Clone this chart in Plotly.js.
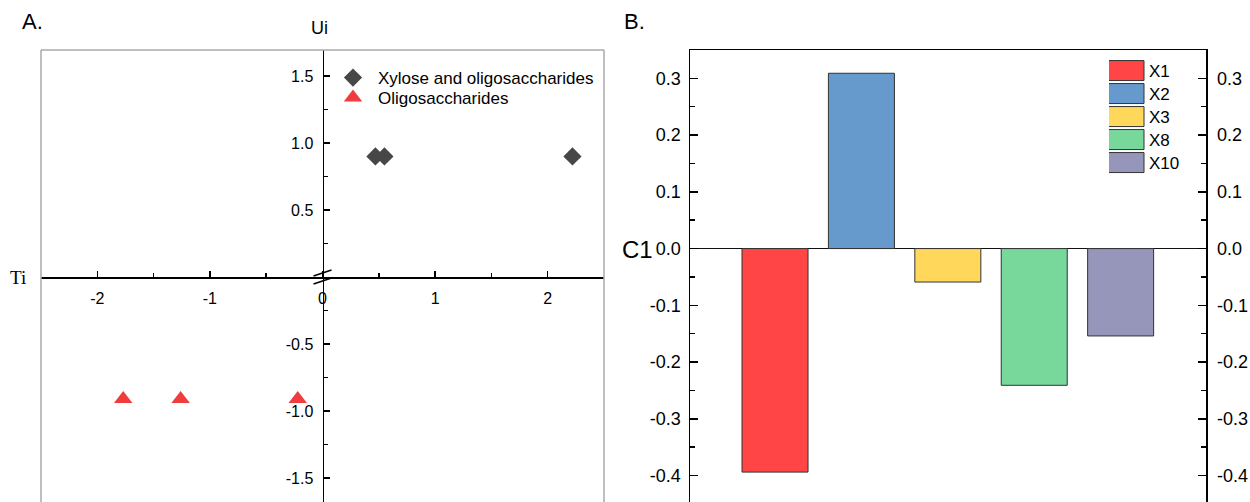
<!DOCTYPE html>
<html>
<head>
<meta charset="utf-8">
<script src="https://cdn.plot.ly/plotly-3.0.1.min.js"></script>
<style>html,body{margin:0;padding:0;background:#fff;overflow:hidden}#chart{width:1250px;height:502px}</style>
</head>
<body>
<div id="chart"></div>
<script>
// ---- Panel A data (Ti / Ui scores) ----
const xyloseName = 'Xylose and oligosaccharides';
const xyloseTi = [0.47, 0.55, 2.22];
const xyloseUi = [0.90, 0.90, 0.90];
const oligoName = 'Oligosaccharides';
const oligoTi = [-1.77, -1.26, -0.22];
const oligoUi = [-0.91, -0.91, -0.91];
const aXTicks = [-2, -1, 0, 1, 2];
const aXTickText = ['-2', '-1', '0', '1', '2'];
const aXMinor = [-2.5, -1.5, -0.5, 0.5, 1.5, 2.5];
const aYTicks = [-1.5, -1.0, -0.5, 0.5, 1.0, 1.5];
const aYTickText = ['-1.5', '-1.0', '-0.5', '0.5', '1.0', '1.5'];
const aYMinor = [-1.25, -0.75, -0.25, 0.25, 0.75, 1.25];

// ---- Panel B data (C1 loadings) ----
const bCats = ['X1', 'X2', 'X3', 'X8', 'X10'];
const bVals = [-0.394, 0.309, -0.059, -0.241, -0.154];
const bColors = ['#ff4545', '#6699cc', '#ffd75a', '#78d79b', '#9696ba'];
const bTicks = [-0.4, -0.3, -0.2, -0.1, 0.0, 0.1, 0.2, 0.3];
const bTickText = ['-0.4', '-0.3', '-0.2', '-0.1', '0.0', '0.1', '0.2', '0.3'];
const bMinor = [-0.45, -0.35, -0.25, -0.15, -0.05, 0.05, 0.15, 0.25, 0.35];

const W = 1250, H = 502;
const SANS = 'Liberation Sans, Arial, sans-serif';
const SERIF = 'Liberation Serif, Times New Roman, serif';

const aDomX = [41 / W, 604 / W];
const aDomY = [0, 1 - 50 / H];
const aRangeX = [-2.5, 2.5];
const aRangeY = [-1.679, 1.694];
const aXPos = aDomY[0] + (0 - aRangeY[0]) / (aRangeY[1] - aRangeY[0]) * (aDomY[1] - aDomY[0]);
const aYPos = aDomX[0] + (0 - aRangeX[0]) / (aRangeX[1] - aRangeX[0]) * (aDomX[1] - aDomX[0]);

const bDomX = [690 / W, 1206 / W];
const bRangeX = [-0.984, 4.988];
const bRangeY = [-0.4467, 0.35];

const traces = [
  {type: 'scatter', mode: 'markers', name: xyloseName, x: xyloseTi, y: xyloseUi,
   xaxis: 'x', yaxis: 'y', legend: 'legend',
   marker: {symbol: 'diamond', size: 14, color: '#474747'}},
  {type: 'scatter', mode: 'markers', name: oligoName, x: oligoTi, y: oligoUi,
   xaxis: 'x', yaxis: 'y', legend: 'legend',
   marker: {symbol: 'triangle-up', size: 16, color: '#f03c3c'}}
];
bCats.forEach((c, i) => {
  traces.push({type: 'bar', name: c, x: [c], y: [bVals[i]], xaxis: 'x2', yaxis: 'y2',
    legend: 'legend2', legendgroup: c,
    marker: {color: bColors[i], line: {color: '#333', width: 1}}});
});
// invisible companion so the right-hand C1 axis is drawn
traces.push({type: 'scatter', mode: 'none', x: bCats, y: bVals, xaxis: 'x2', yaxis: 'y3',
  showlegend: false, hoverinfo: 'skip'});

const axA = {showline: true, linecolor: '#000', linewidth: 1.5, ticks: 'inside', tickcolor: '#000',
  tickwidth: 1.5, showgrid: false, zeroline: false, fixedrange: true,
  tickfont: {family: SANS, size: 16, color: '#000'}};

const axB = {showline: true, linecolor: '#000', linewidth: 1.5, ticks: 'inside', tickcolor: '#000',
  tickwidth: 1.5, ticklen: 8, showgrid: false, fixedrange: true, range: bRangeY, autorange: false,
  tickmode: 'array', tickvals: bTicks, ticktext: bTickText,
  minor: {ticks: 'inside', ticklen: 5, tickwidth: 1.5, tickcolor: '#000', tickmode: 'array', tickvals: bMinor},
  tickfont: {family: SANS, size: 18, color: '#000'}};

const ann = (text, px, py, size, family) => ({text, xref: 'paper', yref: 'paper', x: px / W, y: 1 - py / H,
  xanchor: 'center', yanchor: 'middle', showarrow: false, font: {family: family || SANS, size, color: '#000'}});

const layout = {
  width: W, height: H, margin: {l: 0, r: 0, t: 0, b: 0},
  paper_bgcolor: '#fff', plot_bgcolor: 'rgba(0,0,0,0)',
  barmode: 'overlay', bargap: 0.236, showlegend: true,
  xaxis: Object.assign({}, axA, {domain: aDomX, range: aRangeX, anchor: 'free', position: aXPos,
    tickmode: 'array', tickvals: aXTicks, ticktext: aXTickText, ticklen: 6, ticklabelstandoff: 6,
    minor: {ticks: 'inside', ticklen: 4, tickwidth: 1.5, tickcolor: '#000', tickmode: 'array', tickvals: aXMinor}}),
  yaxis: Object.assign({}, axA, {domain: aDomY, range: aRangeY, anchor: 'free', position: aYPos,
    tickmode: 'array', tickvals: aYTicks, ticktext: aYTickText, ticklen: 6, ticklabelstandoff: 6,
    minor: {ticks: 'inside', ticklen: 4, tickwidth: 1.5, tickcolor: '#000', tickmode: 'array', tickvals: aYMinor}}),
  xaxis2: {domain: bDomX, anchor: 'y2', type: 'category', range: bRangeX, side: 'top',
    showline: true, linecolor: '#000', linewidth: 1.5, ticks: '', showticklabels: false,
    showgrid: false, zeroline: false, fixedrange: true},
  yaxis2: Object.assign({}, axB, {domain: aDomY, anchor: 'x2', side: 'left', ticklabelstandoff: 4,
    zeroline: true, zerolinecolor: '#111', zerolinewidth: 1.2}),
  yaxis3: Object.assign({}, axB, {domain: aDomY, anchor: 'x2', overlaying: 'y2', side: 'right',
    zeroline: false, ticklabelstandoff: 6}),
  legend: {x: 328 / W, y: 1 - 60 / H, xanchor: 'left', yanchor: 'top', bgcolor: 'rgba(0,0,0,0)',
    font: {family: SANS, size: 17, color: '#000'}, itemwidth: 40, tracegroupgap: 0},
  legend2: {x: 1109 / W, y: 1 - 53 / H, xanchor: 'left', yanchor: 'top', bgcolor: 'rgba(0,0,0,0)',
    font: {family: SANS, size: 17, color: '#000'}, tracegroupgap: 0},
  shapes: [
    // panel A frame (left, top, right)
    {type: 'line', xref: 'x domain', yref: 'y domain', x0: 0, x1: 0, y0: 0, y1: 1, line: {color: '#aaaaaa', width: 1.5}},
    {type: 'line', xref: 'x domain', yref: 'y domain', x0: 0, x1: 1, y0: 1, y1: 1, line: {color: '#aaaaaa', width: 1.5}},
    {type: 'line', xref: 'x domain', yref: 'y domain', x0: 1, x1: 1, y0: 0, y1: 1, line: {color: '#aaaaaa', width: 1.5}},
    // axis break marks at the origin
    {type: 'line', xref: 'x', yref: 'y', xsizemode: 'pixel', ysizemode: 'pixel', xanchor: 0, yanchor: 0,
      x0: -9, x1: 9, y0: 1, y1: 7, line: {color: '#000', width: 1.5}},
    {type: 'line', xref: 'x', yref: 'y', xsizemode: 'pixel', ysizemode: 'pixel', xanchor: 0, yanchor: 0,
      x0: -9, x1: 9, y0: -7, y1: -1, line: {color: '#000', width: 1.5}}
  ],
  annotations: [
    ann('A.', 32, 22, 22),
    ann('B.', 634, 22, 22),
    ann('Ui', 319, 28, 18),
    ann('Ti', 18, 277, 19, SERIF),
    ann('C1', 637, 249, 24)
  ]
};

function respace(gd, cls, step) {
  const items = gd.querySelectorAll('g.' + cls + ' g.traces');
  let x0 = null, y0 = null;
  items.forEach((it, i) => {
    const m = /translate\(\s*([-\d.e]+)[ ,]+([-\d.e]+)\s*\)/.exec(it.getAttribute('transform') || '');
    if (!m) return;
    if (i === 0) { x0 = parseFloat(m[1]); y0 = parseFloat(m[2]); }
    it.setAttribute('transform', `translate(${x0},${y0 + i * step})`);
  });
}

Plotly.newPlot('chart', traces, layout, {displayModeBar: false, staticPlot: true}).then(gd => {
  // widen the bar legend swatches to the reference's rectangles
  gd.querySelectorAll('g.legend2 g.traces').forEach(it => {
    const t = it.querySelector('text.legendtext');
    const tx = t ? parseFloat(t.getAttribute('x')) || 40 : 40;
    it.querySelectorAll('g.legendpoints path').forEach(p => {
      p.setAttribute('transform', '');
      const r = tx - 5, l = r - 40;
      p.setAttribute('d', `M${r},-10H${l}V10H${r}Z`);
    });
  });
  respace(gd, 'legend', 20);
  respace(gd, 'legend2', 23);
});
</script>
</body>
</html>
